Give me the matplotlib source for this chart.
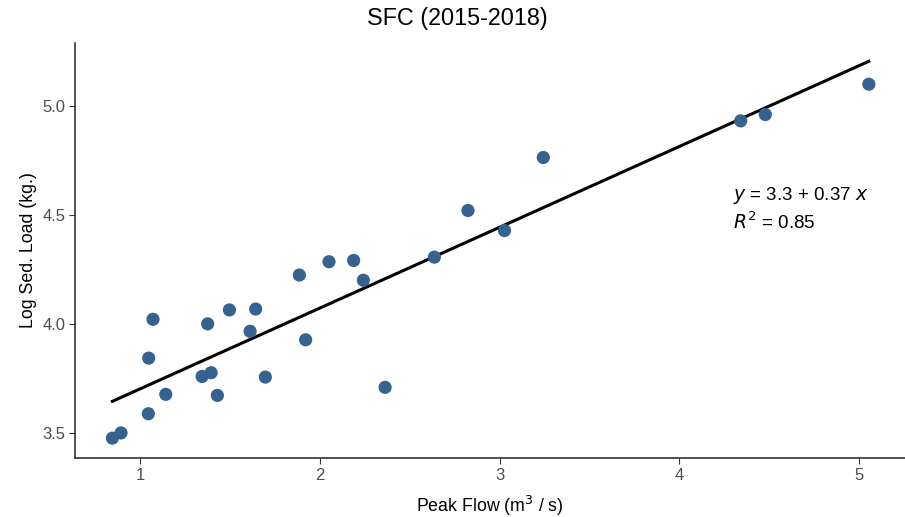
import matplotlib
matplotlib.use("Agg")
import matplotlib.pyplot as plt
import numpy as np

plt.rcParams['font.family'] = ['Liberation Sans', 'DejaVu Sans']

# Peak flow (m3/s) and log sediment load (kg), SFC 2015-2018
peak_flow = [0.846, 0.894, 1.046, 1.048, 1.072, 1.143, 1.345, 1.395, 1.376,
             1.430, 1.497, 1.643, 1.612, 1.697, 1.921, 1.886, 2.051, 2.188,
             2.242, 2.363, 2.637, 2.824, 3.027, 3.243, 4.341, 4.478, 5.054]
log_load = [3.476, 3.500, 3.588, 3.843, 4.021, 3.677, 3.759, 3.776, 4.000,
            3.672, 4.064, 4.068, 3.966, 3.756, 3.927, 4.224, 4.285, 4.291,
            4.200, 3.709, 4.306, 4.520, 4.428, 4.763, 4.931, 4.960, 5.099]

x = np.array(peak_flow)
y = np.array(log_load)
slope, intercept = np.polyfit(x, y, 1)
r2 = np.corrcoef(x, y)[0, 1] ** 2

fig = plt.figure(figsize=(9.05, 5.17), dpi=100)
ax = fig.add_axes([75 / 905, 1 - 458 / 517, 1 - 75 / 905, (458 - 43) / 517])

xs = np.array([x.min(), x.max()])
ax.plot(xs, intercept + slope * xs, color='black', lw=2.2, zorder=2)
ax.scatter(x, y, s=90, color='#35628e', edgecolors='none', zorder=3)

ax.text(4.30, 4.59, r'$y$ = 3.3 + 0.37 $x$', fontsize=13.5, va='center')
ax.text(4.30, 4.465, r'$R^2$ = 0.85', fontsize=13.5, va='center')

ax.set_xlim(0.638, 5.255)
ax.set_ylim(3.385, 5.288)
ax.set_xticks([1, 2, 3, 4, 5])
ax.set_yticks([3.5, 4.0, 4.5, 5.0])
ax.set_yticklabels(['3.5', '4.0', '4.5', '5.0'])

for s in ['top', 'right']:
    ax.spines[s].set_visible(False)
for s in ['left', 'bottom']:
    ax.spines[s].set_color('#333333')
    ax.spines[s].set_linewidth(1.2)
ax.tick_params(colors='#333333', labelcolor='#4d4d4d', labelsize=12, length=4, pad=3)

ax.set_xlabel(r'Peak Flow (m$^3$ / s)', fontsize=12.8, labelpad=8)
ax.set_ylabel('Log Sed. Load (kg.)', fontsize=12.8, labelpad=4)
fig.text(0.505, 1 - 19 / 517, 'SFC (2015-2018)', fontsize=16.8, ha='center', va='center')

fig.savefig('out.png', dpi=100)
